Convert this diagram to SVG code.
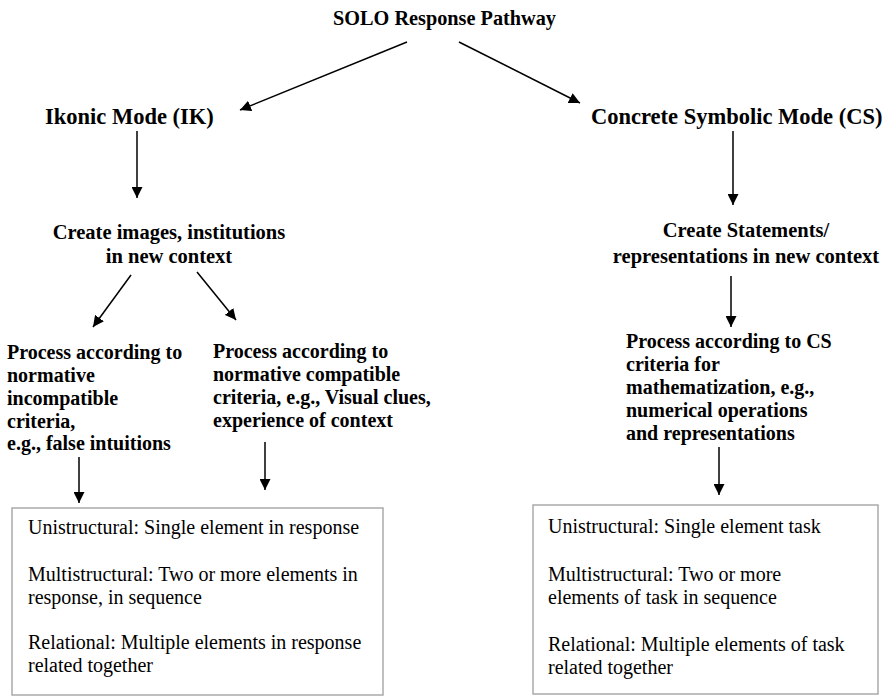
<svg xmlns="http://www.w3.org/2000/svg" width="889" height="696" viewBox="0 0 889 696">
<defs>
<marker id="ah" viewBox="0 0 10 10" refX="10" refY="5" markerWidth="11" markerHeight="11" markerUnits="userSpaceOnUse" orient="auto">
<path d="M0,0 L10,5 L0,10 z" fill="#000"/>
</marker>
<style>
.h{font-family:"Liberation Serif","Times New Roman",serif;font-weight:bold;fill:#000}
.t{font-family:"Liberation Serif","Times New Roman",serif;fill:#000;font-size:20px}
.b{font-size:20px}
.cb{font-size:20.5px}
.c{stroke:#000;stroke-width:1.5;fill:none;marker-end:url(#ah)}
.box{fill:#fff;stroke:#aaa;stroke-width:1.5}
</style>
</defs>
<rect width="889" height="696" fill="#fff"/>
<g id="title"><text class="h" x="333" y="25" font-size="22" textLength="223" lengthAdjust="spacingAndGlyphs">SOLO Response Pathway</text></g>
<g id="ik"><text class="h" x="45" y="124" font-size="22.5">Ikonic Mode (IK)</text></g>
<g id="cs"><text class="h" x="591" y="124" font-size="22.5">Concrete Symbolic Mode (CS)</text></g>
<g id="ik-create"><text class="h cb" text-anchor="middle"><tspan x="169" y="239">Create images, institutions</tspan><tspan x="169" y="263">in new context</tspan></text></g>
<g id="cs-create"><text class="h cb" text-anchor="middle"><tspan x="746" y="237">Create Statements/</tspan><tspan x="746" y="263">representations in new context</tspan></text></g>
<g id="ik-incompat"><text class="h b"><tspan x="7" y="359">Process according to</tspan><tspan x="7" y="382">normative</tspan><tspan x="7" y="405">incompatible</tspan><tspan x="7" y="428">criteria,</tspan><tspan x="7" y="450">e.g., false intuitions</tspan></text></g>
<g id="ik-compat"><text class="h b"><tspan x="213" y="358">Process according to</tspan><tspan x="213" y="381">normative compatible</tspan><tspan x="213" y="404">criteria, e.g., Visual clues,</tspan><tspan x="213" y="427">experience of context</tspan></text></g>
<g id="cs-process"><text class="h b"><tspan x="626" y="348">Process according to CS</tspan><tspan x="626" y="371">criteria for</tspan><tspan x="626" y="394">mathematization, e.g.,</tspan><tspan x="626" y="417">numerical operations</tspan><tspan x="626" y="440">and representations</tspan></text></g>
<g id="ik-levels"><rect class="box" x="12" y="508" width="371" height="187"/>
<text class="t"><tspan x="28" y="534">Unistructural: Single element in response</tspan><tspan x="28" y="581">Multistructural: Two or more elements in</tspan><tspan x="28" y="604">response, in sequence</tspan><tspan x="28" y="649">Relational: Multiple elements in response</tspan><tspan x="28" y="672">related together</tspan></text></g>
<g id="cs-levels"><rect class="box" x="533" y="505" width="345" height="189"/>
<text class="t" font-size="20.5"><tspan x="548" y="533">Unistructural: Single element task</tspan><tspan x="548" y="581">Multistructural: Two or more</tspan><tspan x="548" y="604">elements of task in sequence</tspan><tspan x="548" y="651">Relational: Multiple elements of task</tspan><tspan x="548" y="674">related together</tspan></text></g>
<g id="connectors">
<line class="c" x1="407" y1="42" x2="240" y2="110"/>
<line class="c" x1="459" y1="42" x2="580" y2="103"/>
<line class="c" x1="137" y1="131" x2="137" y2="198"/>
<line class="c" x1="733" y1="131" x2="733" y2="205"/>
<line class="c" x1="131" y1="275" x2="93" y2="327"/>
<line class="c" x1="197" y1="272" x2="236" y2="320"/>
<line class="c" x1="731" y1="276" x2="731" y2="327"/>
<line class="c" x1="79" y1="457" x2="79" y2="503"/>
<line class="c" x1="265" y1="442" x2="265" y2="490"/>
<line class="c" x1="719" y1="447" x2="719" y2="495"/>
</g>
</svg>
